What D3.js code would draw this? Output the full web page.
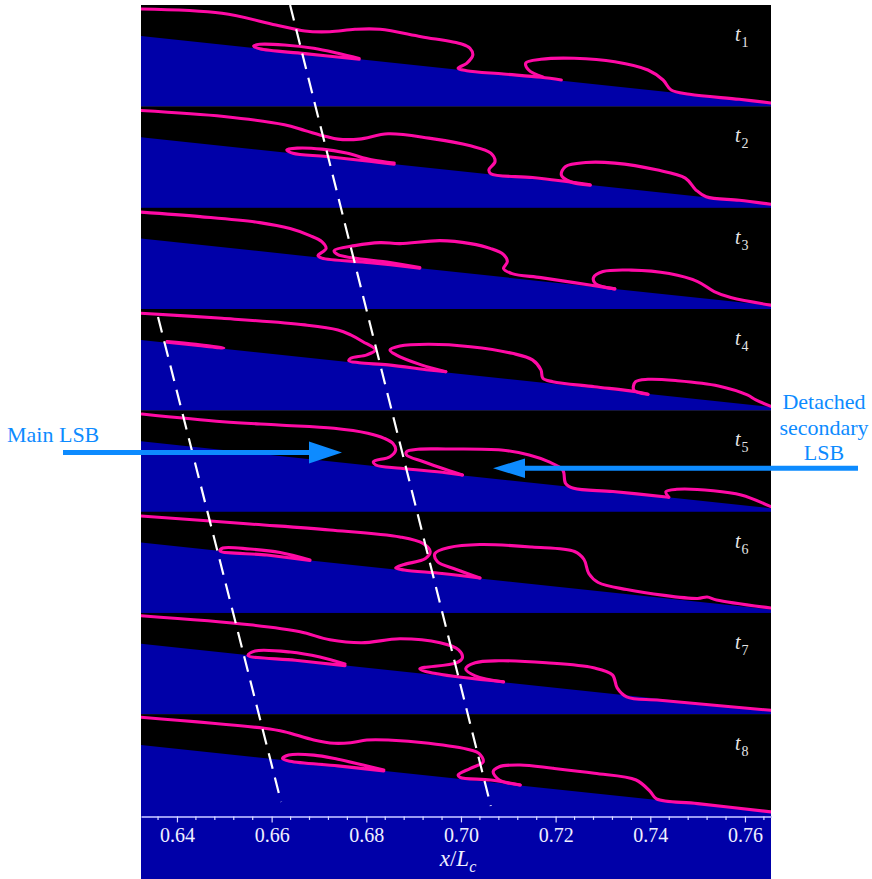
<!DOCTYPE html>
<html><head><meta charset="utf-8">
<script src="https://cdn.jsdelivr.net/npm/d3@7"></script>
<style>body{margin:0;background:#fff}svg{display:block}</style>
</head><body><svg id="c" width="872" height="879"></svg>
<script>
// ---------------- data ----------------
const X_DOMAIN = [0.6324, 0.7655];
const MAJOR_TICKS = [0.64, 0.66, 0.68, 0.70, 0.72, 0.74, 0.76];
const MINOR_TICKS = [0.636,0.644,0.648,0.652,0.656,0.664,0.668,0.672,0.676,0.684,0.688,0.692,0.696,
  0.704,0.708,0.712,0.716,0.724,0.728,0.732,0.736,0.744,0.748,0.752,0.756,0.764];
const PANEL_LABELS = ["1","2","3","4","5","6","7","8"];
// wall line (x/Lc, panel depth index 0=top .. 101.3=bottom)
const WALL = [[0.6324, 31], [0.7655, 98]];

const T1 = [
  [[.6324,4],[.6495,8.3],[.6609,20],[.6670,26],[.6723,26.7],[.6776,24.3],[.6829,24.3],[.6916,31.7],[.7003,39.3],[.7019,43.3],[.7025,50],[.7012,58.3],[.6994,63.3],[.7012,65.7],[.7090,69],[.7169,72.3],[.7212,75]],
  [[.7173,72],[.7143,65],[.7137,58],[.7169,54.3],[.7239,53.3],[.7325,56.7],[.7395,65],[.7427,75],[.7444,85],[.7483,89.3],[.7588,94.3],[.7655,98]],
  [[.6785,54.3],[.6670,48.6],[.6575,43.8],[.6562,41],[.6575,39.3],[.6627,40],[.6689,43.3],[.6740,48.3],[.6785,53.5]]
];
const T2 = [
  [[.6324,4.2],[.6499,10.2],[.6627,18.5],[.6670,24.2],[.6715,30.2],[.6740,32.8],[.6785,32.8],[.6846,27.5],[.6932,31.8],[.7020,39.5],[.7063,46.8],[.7072,55.2],[.7059,63.5],[.7063,67.5],[.7151,71.2],[.7239,76.2],[.7273,78.5]],
  [[.7273,79],[.7230,75.2],[.7212,68.5],[.7221,60.2],[.7264,56.2],[.7325,56.8],[.7413,63.5],[.7474,71.8],[.7496,83.5],[.7518,90.5],[.7588,94],[.7655,98]],
  [[.6859,57.8],[.6811,55.2],[.6715,50.2],[.6645,47],[.6632,43.5],[.6654,41.8],[.6706,42.8],[.6758,46.8],[.6811,53.5],[.6859,56.8]]
];
const T3 = [
  [[.6324,4.5],[.6449,9],[.6575,15],[.6639,21],[.6681,28],[.6706,34],[.6715,41],[.6698,48],[.6706,50.5],[.6808,55],[.6913,60.5]],
  [[.6913,60],[.6850,55],[.6740,47],[.6732,43],[.6776,38],[.6829,35],[.6871,36],[.6956,33],[.7020,36],[.7063,41],[.7090,47],[.7098,54],[.7090,61],[.7108,66],[.7169,70],[.7239,75],[.7325,81.3]],
  [[.7325,81.3],[.7284,76],[.7280,70],[.7300,64],[.7360,62.5],[.7440,66],[.7500,74],[.7535,84],[.7570,90],[.7655,97.5]]
];
const T4 = [
  [[.6324,4.4],[.6495,9.4],[.6670,16],[.6740,21],[.6767,26],[.6793,32.8],[.6819,41],[.6801,46],[.6767,49.4],[.6763,51.8],[.6785,53.8],[.6846,56],[.6932,61],[.6968,62.8]],
  [[.6968,62.8],[.6916,56],[.6863,46],[.6850,41],[.6871,37],[.6932,35.4],[.7020,37.8],[.7108,44.4],[.7151,51],[.7169,61],[.7173,69.4],[.7194,72.8],[.7282,77.8],[.7370,82.8],[.7395,85.4]],
  [[.7395,85.4],[.7365,81],[.7369,72.8],[.7395,70.4],[.7457,71.8],[.7544,77],[.7605,86],[.7623,91],[.7655,97.5]],
  [[.6379,32.6],[.6440,35.5],[.6499,39.2],[.6440,36.3],[.6379,33.4]]
];
const T5 = [
  [[.6326,3.8],[.6497,11.5],[.6615,14.8],[.6732,18.1],[.6803,23.1],[.6838,28.1],[.6856,33.1],[.6862,39.8],[.6850,46.5],[.6815,51.5],[.6820,54.8],[.6873,58.1],[.6968,62.5],[.7003,64.8]],
  [[.7003,64.8],[.6921,51.5],[.6885,44.8],[.6885,41.5],[.6909,39.1],[.6968,38.8],[.7085,39.8],[.7144,44.8],[.7185,51.5],[.7215,59.8],[.7221,73.1],[.7238,78.1],[.7321,81.3],[.7439,87]],
  [[.7439,87],[.7433,81.5],[.7456,79.1],[.7533,80.5],[.7592,84.8],[.7655,96.5]]
];
const T6 = [
  [[.6324,4.5],[.6554,12.5],[.6723,18.5],[.6871,25.5],[.6920,32],[.6935,40],[.6925,47],[.6880,53],[.6862,56.5],[.6880,58.5],[.6960,62],[.7040,66.5]],
  [[.7040,66.5],[.6990,58],[.6950,50],[.6945,42],[.6975,36],[.7040,33],[.7150,35.5],[.7240,40],[.7260,48],[.7270,62],[.7290,71],[.7350,78],[.7500,87],[.7520,85.5],[.7540,88.5],[.7655,96.5]],
  [[.6681,49],[.6590,43.5],[.6491,39.4],[.6497,36.5],[.6554,37.5],[.6618,41],[.6681,48.5]]
];
const T7 = [
  [[.6324,3],[.6554,12],[.6660,19],[.6723,27],[.6790,30],[.6871,26],[.6956,30],[.6995,37],[.7003,45],[.6990,50],[.6913,56],[.6950,61],[.7090,69]],
  [[.7090,69.2],[.7030,63],[.7010,56],[.7030,50],[.7080,48],[.7180,50],[.7280,55],[.7320,62],[.7330,75],[.7350,84],[.7420,87.5],[.7655,97.5]],
  [[.6755,52.8],[.6650,47.5],[.6550,42.5],[.6565,38.2],[.6639,39.2],[.6702,44.2],[.6755,51.2]]
];
const T8 = [
  [[.6324,3.2],[.6584,14.2],[.6627,17.6],[.6689,25.9],[.6732,29.2],[.6767,28.6],[.6801,25.9],[.6846,25.9],[.6932,29.2],[.7020,35.9],[.7038,39.2],[.7047,47.6],[.7020,54.2],[.6994,60.9],[.6998,63.2],[.7063,65.9],[.7125,70.9]],
  [[.7125,70.9],[.7081,65.9],[.7068,57.6],[.7081,52.6],[.7125,50.9],[.7194,54.2],[.7282,59.2],[.7370,65.9],[.7400,77.6],[.7413,84.8],[.7500,89.5],[.7655,97.8]],
  [[.6837,56.8],[.6740,51.8],[.6639,47.2],[.6623,44.5],[.6636,41],[.6689,41],[.6740,45.2],[.6793,50.9],[.6837,55.9]]
];
const CURVES = [T1, T2, T3, T4, T5, T6, T7, T8];
// dashed trend lines: [x/Lc, panel index position 0..8]
const DASH_A = [[0.6639, 0], [0.7063, 7.907]];
const DASH_B = [[0.6360, 3.08], [0.6620, 7.868]];

// ---------------- layout ----------------
const W = 872, H = 879;
const L = 141, R = 771, TOP = 5, PH = 101.3, NP = 8;
const AX_Y = TOP + PH * NP;
const BLUE = "#0000a8", PINK = "#ff0aa5";
const svg = d3.select("#c");
svg.append("rect").attr("width", W).attr("height", H).attr("fill", "#fff");

const x = d3.scaleLinear().domain(X_DOMAIN).range([L, R]);
const yStack = d3.scaleLinear().domain([0, NP]).range([TOP, AX_Y]);

CURVES.forEach((curves, i) => {
  const top = yStack(i);
  const y = d3.scaleLinear().domain([0, PH]).range([top, top + PH]);
  const g = svg.append("g");
  const cid = "clip" + i;
  svg.append("clipPath").attr("id", cid).append("rect")
    .attr("x", L).attr("y", top).attr("width", R - L).attr("height", PH + 0.5);
  g.attr("clip-path", `url(#${cid})`);
  g.append("rect").attr("x", L).attr("y", top).attr("width", R - L).attr("height", PH + 0.5).attr("fill", "#000");
  const wedge = [WALL[0], WALL[1], [WALL[1][0], PH + 0.5], [WALL[0][0], PH + 0.5]];
  g.append("path").attr("d", "M" + wedge.map(p => [x(p[0]), y(p[1])].join(",")).join("L") + "Z").attr("fill", BLUE);
  const line = d3.line().x(d => x(d[0])).y(d => y(d[1])).curve(d3.curveCatmullRom.alpha(0.5));
  curves.forEach(c => {
    g.append("path").attr("d", line(c)).attr("fill", "none").attr("stroke", PINK)
      .attr("stroke-width", 3.1).attr("stroke-linejoin", "round").attr("stroke-linecap", "round");
  });
  const t = svg.append("text").attr("x", 735).attr("y", top + 36)
    .attr("fill", "#e6e6e6").attr("font-family", "Liberation Serif, serif");
  t.append("tspan").attr("font-style", "italic").attr("font-size", 20).text("t");
  t.append("tspan").attr("font-size", 14).attr("dx", 1).attr("dy", 6).text(PANEL_LABELS[i]);
});

// bottom axis band
svg.append("rect").attr("x", L).attr("y", AX_Y).attr("width", R - L).attr("height", H - AX_Y).attr("fill", BLUE);

// dashed lines
[DASH_A, DASH_B].forEach(d => {
  svg.append("line").attr("x1", x(d[0][0])).attr("y1", yStack(d[0][1]))
    .attr("x2", x(d[1][0])).attr("y2", yStack(d[1][1]))
    .attr("stroke", "#fff").attr("stroke-width", 2.2).attr("stroke-dasharray", "16,9");
});

// axis
const axY = AX_Y + 1;
const ax = svg.append("g").attr("transform", `translate(0,${axY})`)
  .call(d3.axisBottom(x).tickValues(MAJOR_TICKS).tickSize(6).tickPadding(5).tickSizeOuter(0)
    .tickFormat(d3.format(".2f")));
ax.select(".domain").attr("stroke", "#9a9af2").attr("stroke-width", 2);
ax.selectAll(".tick line").attr("stroke", "#dcdcff").attr("stroke-width", 1.2);
ax.selectAll(".tick text").attr("fill", "#f0f0ff").attr("font-family", "Liberation Serif, serif").attr("font-size", 20);
ax.selectAll(".minor").data(MINOR_TICKS).join("line").attr("class", "minor")
  .attr("x1", d => x(d)).attr("x2", d => x(d)).attr("y1", 0).attr("y2", 3.5)
  .attr("stroke", "#dcdcff").attr("stroke-width", 1.2);

const xl = svg.append("text").attr("x", (L + R) / 2 + 2).attr("y", 866).attr("text-anchor", "middle")
  .attr("fill", "#f0f0ff").attr("font-family", "Liberation Serif, serif").attr("font-size", 23);
xl.append("tspan").attr("font-style", "italic").text("x");
xl.append("tspan").text("/");
xl.append("tspan").attr("font-style", "italic").text("L");
xl.append("tspan").attr("font-style", "italic").attr("font-size", 16).attr("dy", 6).text("c");

// annotations
const AC = "#0d8bff";
const ann = svg.append("g").attr("font-family", "Liberation Serif, serif").attr("font-size", 22).attr("fill", AC);
ann.append("text").attr("x", 7).attr("y", 442).text("Main LSB");
["Detached", "secondary", "LSB"].forEach((s, k) => {
  ann.append("text").attr("x", 824).attr("y", 409 + k * 25.5).attr("text-anchor", "middle").text(s);
});
svg.append("line").attr("x1", 63).attr("x2", 314).attr("y1", 452.5).attr("y2", 452.5).attr("stroke", AC).attr("stroke-width", 5);
svg.append("path").attr("d", "M309,441.5L342,452.5L309,463.5Z").attr("fill", AC);
svg.append("line").attr("x1", 858).attr("x2", 520).attr("y1", 468.3).attr("y2", 468.3).attr("stroke", AC).attr("stroke-width", 5);
svg.append("path").attr("d", "M525,458.5L493,468.3L525,478Z").attr("fill", AC);
</script></body></html>
